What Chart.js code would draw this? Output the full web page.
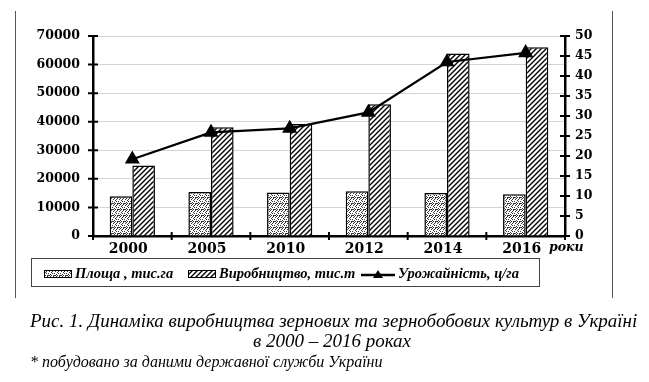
<!DOCTYPE html>
<html>
<head>
<meta charset="utf-8">
<script src="https://cdn.jsdelivr.net/npm/chart.js@4.4.1/dist/chart.umd.min.js"></script>
<style>
  body { margin: 0; background: #fff; }
  #wrap { position: relative; width: 649px; height: 382px; overflow: hidden; }
  #grainChart { position: absolute; left: 0; top: 0; }
  .frame { position: absolute; top: 11px; height: 287px; width: 1px; background: #555; }
  #legend {
    position: absolute; left: 31px; top: 258px; width: 509px; height: 29px;
    border: 1px solid #444; box-sizing: border-box;
    font: italic bold 14.5px "Liberation Serif", serif; color: #000;
    white-space: nowrap;
  }
  #legend .item { position: absolute; top: 6px; line-height: 16px; }
  #legend .sw { display: inline-block; vertical-align: middle; margin-right: 3px; margin-top: -2px; }
  .cap { position: absolute; font: italic 19px "Liberation Serif", serif; color: #000; white-space: nowrap; }
  #cap1 { left: 30px; top: 310px; }
  #cap2 { left: 0; width: 664px; text-align: center; top: 330px; }
  #note { position: absolute; left: 30px; top: 353px; font: italic 16px "Liberation Serif", serif; white-space: nowrap; }
</style>
</head>
<body>
<div id="wrap">
  <canvas id="grainChart" width="649" height="382"></canvas>
  <div class="frame" style="left:15px"></div>
  <div class="frame" style="left:612px"></div>
  <div id="legend">
    <span class="item" style="left:12px"><canvas class="sw" id="swArea" width="28" height="8"></canvas>Площа , тис.га</span>
    <span class="item" style="left:156px"><canvas class="sw" id="swProd" width="28" height="8"></canvas>Виробництво, тис.т</span>
    <span class="item" style="left:329px"><canvas class="sw" id="swYield" width="34" height="10"></canvas>Урожайність, ц/га</span>
  </div>
  <div class="cap" id="cap1">Рис. 1. Динаміка виробництва зернових та зернобобових культур в Україні</div>
  <div class="cap" id="cap2">в 2000 – 2016 роках</div>
  <div id="note">* побудовано за даними державної служби України</div>
</div>
<script>
// Data
const years = ["2000", "2005", "2010", "2012", "2014", "2016"];
const areaData = [13900, 15400, 15200, 15650, 15050, 14600];        // тис.га
const productionData = [24700, 38100, 39200, 46100, 63900, 66100];  // тис.т
const yieldData = [19.2, 25.9, 26.9, 30.9, 43.5, 45.8];             // ц/га

// Fill patterns
function dotPattern() {
  const c = document.createElement("canvas");
  c.width = 6; c.height = 6;
  const g = c.getContext("2d");
  g.fillStyle = "#fff";
  g.fillRect(0, 0, 6, 6);
  g.fillStyle = "#333";
  [[0,0],[3,0],[1,2],[5,1],[2,3],[4,3],[0,4],[3,5],[5,5],[2,1],[4,5],[1,5]].forEach(p => g.fillRect(p[0], p[1], 1, 1));
  return c;
}

function hatchPattern() {
  const c = document.createElement("canvas");
  c.width = 5; c.height = 5;
  const g = c.getContext("2d");
  g.fillStyle = "#fff";
  g.fillRect(0, 0, 5, 5);
  g.strokeStyle = "#000";
  g.lineWidth = 1.4;
  g.beginPath();
  g.moveTo(-1, 6); g.lineTo(6, -1);
  g.moveTo(-1, 1); g.lineTo(1, -1);
  g.moveTo(4, 6); g.lineTo(6, 4);
  g.stroke();
  return c;
}

const ctx = document.getElementById("grainChart").getContext("2d");
const dotFill = ctx.createPattern(dotPattern(), "repeat");
const hatchFill = ctx.createPattern(hatchPattern(), "repeat");

// Legend swatches
function drawSwatch(id, pat) {
  const el = document.getElementById(id);
  const g = el.getContext("2d");
  g.fillStyle = g.createPattern(pat, "repeat");
  g.fillRect(0, 0, el.width, el.height);
  g.strokeStyle = "#000";
  g.lineWidth = 1;
  g.strokeRect(0.5, 0.5, el.width - 1, el.height - 1);
}
drawSwatch("swArea", dotPattern());
drawSwatch("swProd", hatchPattern());
(function () {
  const g = document.getElementById("swYield").getContext("2d");
  g.strokeStyle = "#000";
  g.lineWidth = 2.5;
  g.beginPath(); g.moveTo(0, 6); g.lineTo(34, 6); g.stroke();
  g.fillStyle = "#000";
  g.beginPath(); g.moveTo(17, 1); g.lineTo(22, 9); g.lineTo(12, 9); g.closePath(); g.fill();
})();

const tickFont = { family: "DejaVu Serif", size: 12.5, weight: "bold" };

// Crossing tick marks and the "роки" label
const axisExtras = {
  id: "axisExtras",
  afterDraw(chart) {
    const c = chart.ctx;
    const a = chart.chartArea;
    const y = chart.scales.y, y1 = chart.scales.y1;
    c.save();
    c.strokeStyle = "#000";
    c.lineWidth = 2;
    c.beginPath();
    y.ticks.forEach((t, i) => {
      const p = y.getPixelForTick(i);
      c.moveTo(a.left - 5, p); c.lineTo(a.left + 5, p);
    });
    y1.ticks.forEach((t, i) => {
      const p = y1.getPixelForTick(i);
      c.moveTo(a.right - 5, p); c.lineTo(a.right + 5, p);
    });
    const w = (a.right - a.left) / years.length;
    for (let i = 0; i <= years.length; i++) {
      const x = a.left + i * w;
      c.moveTo(x, a.bottom - 4); c.lineTo(x, a.bottom + 4);
    }
    c.stroke();
    c.font = "italic bold 12.5px 'DejaVu Serif'";
    c.fillStyle = "#000";
    c.textBaseline = "middle";
    c.fillText("роки", 549, 248);
    c.restore();
  }
};

new Chart(ctx, {
  type: "bar",
  data: {
    labels: years,
    datasets: [
      {
        type: "line",
        label: "Урожайність, ц/га",
        data: yieldData,
        yAxisID: "y1",
        borderColor: "#000",
        borderWidth: 2.2,
        pointStyle: "triangle",
        pointRadius: 6.5,
        pointBackgroundColor: "#000",
        pointBorderColor: "#000",
        tension: 0,
        order: 0,
      },
      {
        label: "Площа , тис.га",
        data: areaData,
        yAxisID: "y",
        backgroundColor: dotFill,
        borderColor: "#000",
        borderWidth: 1.5,
        categoryPercentage: 0.575,
        barPercentage: 1,
        order: 1,
      },
      {
        label: "Виробництво, тис.т",
        data: productionData,
        yAxisID: "y",
        backgroundColor: hatchFill,
        borderColor: "#000",
        borderWidth: 1.5,
        categoryPercentage: 0.575,
        barPercentage: 1,
        order: 2,
      },
    ],
  },
  options: {
    responsive: false,
    animation: false,
    layout: { padding: { left: 0, right: 44, top: 36, bottom: 126 } },
    plugins: { legend: { display: false }, tooltip: { enabled: false } },
    scales: {
      x: {
        grid: { display: false, drawTicks: false },
        border: { display: true, color: "#000", width: 2.5 },
        ticks: { color: "#000", font: { family: "DejaVu Serif", size: 14, weight: "bold" }, padding: 5, labelOffset: -4 },
        afterFit: (s) => { s.height = 20; },
      },
      y: {
        position: "left",
        min: 0,
        max: 70000,
        grid: { color: "#d4d4d4", lineWidth: 1, drawTicks: false },
        border: { display: true, color: "#000", width: 2.5 },
        ticks: { stepSize: 10000, color: "#000", font: tickFont, padding: 13, callback: (v) => String(v) },
        afterFit: (s) => { s.width = 93; },
      },
      y1: {
        position: "right",
        min: 0,
        max: 50,
        grid: { display: false, drawTicks: false },
        border: { display: true, color: "#000", width: 2.5 },
        ticks: { stepSize: 5, color: "#000", font: tickFont, padding: 10, callback: (v) => String(v) },
        afterFit: (s) => { s.width = 40; },
      },
    },
  },
  plugins: [axisExtras],
});
</script>
</body>
</html>
